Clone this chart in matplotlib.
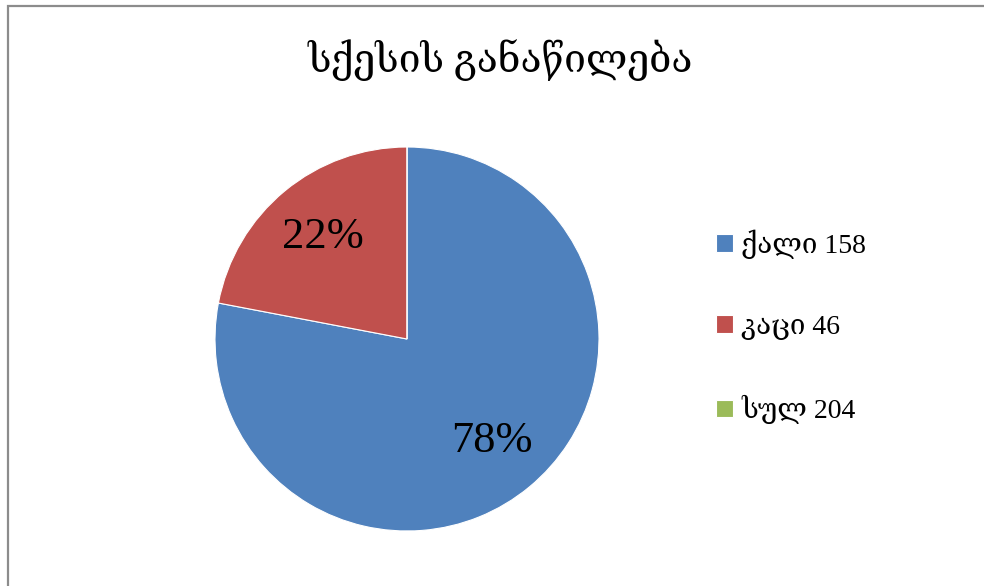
import matplotlib
matplotlib.use("Agg")
import matplotlib.pyplot as plt
from matplotlib.patches import Rectangle

plt.rcParams['font.family'] = ['Liberation Serif', 'DejaVu Serif', 'DejaVu Sans']

# gender split of respondents
names = ['ქალი', 'კაცი', 'სულ']
counts = [158, 46, 204]
shares = [78, 22, 0]
colors = ['#4F81BD', '#C0504D', '#9BBB59']
title = 'სქესის განაწილება'

fig = plt.figure(figsize=(9.84, 5.86), dpi=100, facecolor='white')

# chart frame
W, H = 984, 586
fig.patches.append(Rectangle((8 / W, -0.05), 1.1, 1 - 6 / H + 0.05,
                             transform=fig.transFigure, fill=False,
                             edgecolor='#8c8c8c', linewidth=1.6))

ax = fig.add_axes([(407 - 192) / W, (H - 339 - 192) / H, 384 / W, 384 / H])
ax.set_aspect('equal')

def pct(p):
    return f'{p:.0f}%' if p > 0.5 else ''

wedges, texts, autotexts = ax.pie(
    shares, colors=colors, startangle=90, counterclock=False,
    autopct=pct, pctdistance=0.69, radius=1,
    wedgeprops={'edgecolor': 'white', 'linewidth': 0.8},
    textprops={'fontsize': 32, 'color': 'black'})
ax.set_xlim(-1, 1)
ax.set_ylim(-1, 1)
ax.axis('off')

labels = [f'{n} {c}' for n, c in zip(names, counts)]
fig.legend(wedges, labels, loc='center left',
           bbox_to_anchor=(716 / W, (H - 327) / H), frameon=False,
           fontsize=20, handlelength=0.6, handleheight=0.6,
           handletextpad=0.3, labelspacing=2.0, borderpad=0, borderaxespad=0)

fig.text(500 / W, 1 - 60 / H, title, ha='center', va='center', fontsize=28)

fig.savefig('out.png', dpi=100, facecolor='white')
